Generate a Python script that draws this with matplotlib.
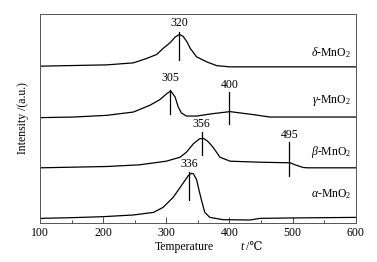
import matplotlib
matplotlib.use("Agg")
import matplotlib.pyplot as plt
from matplotlib.ticker import MultipleLocator

plt.rcParams['font.family'] = ['Liberation Serif', 'DejaVu Serif']
plt.rcParams['mathtext.fontset'] = 'custom'
plt.rcParams['mathtext.rm'] = 'Liberation Serif'
plt.rcParams['mathtext.it'] = 'Liberation Serif:italic'

# === DATA (temperature in degC, stacked intensity in arbitrary units) ===
alpha_t = [100, 150, 200, 248, 280, 295, 311, 324, 335, 340, 343, 348, 352, 356, 361, 369, 390, 433, 448, 496, 600]
alpha_y = [4.3, 5, 6, 7.7, 10.3, 15.3, 25.3, 37, 47, 49.3, 48.7, 43, 32, 22, 10.3, 5.3, 3, 2.7, 4.3, 4.7, 5.3]

beta_t = [100, 206, 258, 300, 322, 332, 343, 353, 359, 366, 374, 385, 401, 448, 496, 507, 517, 523, 600]
beta_y = [54.7, 56, 57.7, 61.3, 65.3, 70.3, 78.7, 83.7, 84, 81, 75.3, 65.3, 61.3, 60.3, 59.7, 57, 55, 54.7, 54.7]

gamma_t = [100, 153, 206, 248, 274, 290, 301, 307, 314, 319, 324, 332, 348, 374, 401, 438, 464, 600]
gamma_y = [104.7, 105.3, 107, 110.3, 117, 122.7, 128.7, 131.3, 125.3, 115.3, 109.3, 106.3, 106.3, 108.7, 110.7, 107.7, 105.3, 105.3]

delta_t = [100, 206, 248, 269, 285, 295, 306, 314, 321, 327, 333, 338, 348, 364, 380, 401, 600]
delta_y = [156, 157.3, 159.3, 163.7, 167.7, 173.7, 179.3, 185, 187.7, 185.5, 180, 173.7, 165.3, 160.3, 156.5, 155.3, 155.3]

names = [r'$\alpha$-MnO$_2$', r'$\beta$-MnO$_2$', r'$\gamma$-MnO$_2$', r'$\delta$-MnO$_2$']
name_y = [29, 70, 122, 170]

# peak markers
peak_t = [336, 356, 495, 306, 400, 320]
peak_lo = [22.7, 67, 47, 108.7, 98.7, 162]
peak_hi = [50.3, 90.3, 80, 132, 130, 190]
peak_lab = ['336', '356', '495', '305', '400', '320']
peak_lab_y = [58.7, 98.7, 87, 144, 137, 198.7]

# === PLOT ===
fig = plt.figure(figsize=(3.77, 2.62), dpi=100)
ax = fig.add_axes([0.106, 0.15, 0.8375, 0.7966])

curves = [(alpha_t, alpha_y), (beta_t, beta_y), (gamma_t, gamma_y), (delta_t, delta_y)]
for (t, y), name, yy in zip(curves, names, name_y):
    ax.plot(t, y, color='black', lw=0.9)
    ax.text(593, yy, name, ha='right', va='center', fontsize=8.5)

for t, lo, hi, lab, ly in zip(peak_t, peak_lo, peak_hi, peak_lab, peak_lab_y):
    ax.plot([t, t], [lo, hi], color='black', lw=0.9)
    ax.text(t, ly, lab, ha='center', va='center', fontsize=8.5)

ax.set_xlim(100, 600)
ax.set_ylim(0, 208)
ax.set_yticks([])
ax.xaxis.set_major_locator(MultipleLocator(100))
ax.xaxis.set_minor_locator(MultipleLocator(50))
ax.tick_params(axis='x', which='major', direction='in', length=4, width=0.6,
               labelsize=8.5, pad=3, colors='#333333', labelcolor='black')
ax.tick_params(axis='x', which='minor', direction='in', length=2, width=0.6,
               colors='#333333')
for s in ax.spines.values():
    s.set_color('#555555')
    s.set_linewidth(0.7)

# x label in pieces so the degree sign can fall back to DejaVu Serif
fig.text(0.49, 0.057, 'Temperature', ha='center', va='center', fontsize=8.5)
fig.text(0.637, 0.057, 't', ha='left', va='center', fontsize=8.5, style='italic')
fig.text(0.652, 0.057, '/\u2103', ha='left', va='center', fontsize=8.5,
         family=['Liberation Serif', 'DejaVu Serif'])
ax.set_ylabel('Intensity /(a.u.)', fontsize=8.5, labelpad=8)

fig.savefig('out.png', dpi=100)
